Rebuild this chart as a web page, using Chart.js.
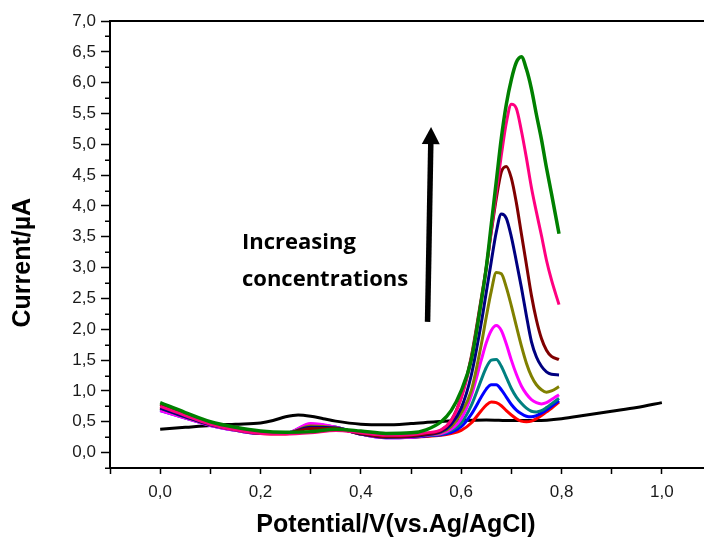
<!DOCTYPE html>
<html><head><meta charset="utf-8">
<script src="https://cdn.jsdelivr.net/npm/chart.js@4.4.0/dist/chart.umd.min.js"></script>
<style>html,body{margin:0;padding:0;background:#fff;overflow:hidden}#wrap{width:704px;height:551px;position:relative}</style>
</head><body><div id="wrap"><canvas id="c" width="704" height="551"></canvas></div>
<script>
// ---------- data ----------
const potential = [0,0.05,0.1,0.15,0.2,0.25,0.3,0.35,0.4,0.45,0.5,0.53,
  0.56,0.58,0.6,0.62,0.64,0.65,0.66,0.67,0.68,0.69,0.7,0.71,0.72,0.73,0.74,0.75,0.76,0.77,0.78,0.795];
const red     = [0.74,0.60,0.46,0.37,0.31,0.30,0.42,0.40,0.30,0.25,0.25,0.26,
  0.28,0.31,0.36,0.48,0.68,0.77,0.82,0.81,0.76,0.68,0.61,0.55,0.51,0.50,0.51,0.55,0.60,0.66,0.72,0.82];
const blue    = [0.68,0.56,0.44,0.36,0.31,0.31,0.46,0.41,0.30,0.24,0.25,0.27,
  0.29,0.33,0.42,0.62,0.90,1.03,1.10,1.10,1.02,0.90,0.78,0.69,0.63,0.59,0.58,0.60,0.64,0.69,0.75,0.84];
const teal    = [0.70,0.57,0.45,0.36,0.31,0.31,0.45,0.41,0.30,0.25,0.26,0.28,
  0.30,0.36,0.48,0.76,1.18,1.38,1.50,1.51,1.40,1.22,1.04,0.90,0.80,0.72,0.67,0.66,0.68,0.73,0.79,0.88];
const magenta = [0.68,0.56,0.44,0.36,0.31,0.31,0.47,0.41,0.30,0.24,0.25,0.28,
  0.31,0.38,0.55,0.92,1.50,1.78,1.98,2.06,1.98,1.76,1.50,1.27,1.08,0.95,0.86,0.81,0.79,0.81,0.86,0.94];
const olive   = [0.72,0.58,0.45,0.37,0.31,0.31,0.43,0.40,0.30,0.25,0.26,0.29,
  0.33,0.42,0.64,1.00,1.75,2.20,2.62,2.92,2.90,2.68,2.38,2.05,1.73,1.45,1.24,1.10,1.02,0.98,1.00,1.07];
const navy    = [0.72,0.58,0.45,0.37,0.31,0.31,0.41,0.40,0.30,0.25,0.26,0.29,
  0.34,0.46,0.72,1.25,2.10,2.60,3.10,3.58,3.87,3.80,3.50,3.10,2.68,2.22,1.80,1.55,1.40,1.31,1.27,1.26];
const maroon  = [0.78,0.62,0.47,0.38,0.32,0.31,0.39,0.39,0.31,0.26,0.27,0.30,
  0.36,0.52,0.90,1.55,2.50,3.00,3.58,4.12,4.55,4.64,4.45,4.05,3.55,3.05,2.55,2.15,1.85,1.66,1.56,1.51];
const pink    = [0.75,0.60,0.46,0.37,0.31,0.30,0.32,0.36,0.32,0.28,0.29,0.32,
  0.37,0.52,0.88,1.52,2.45,3.00,3.60,4.22,4.82,5.35,5.65,5.58,5.22,4.78,4.30,3.90,3.52,3.12,2.80,2.40];
const green   = [0.81,0.65,0.50,0.41,0.35,0.33,0.34,0.38,0.35,0.31,0.32,0.37,
  0.50,0.68,1.00,1.50,2.45,3.00,3.70,4.40,5.10,5.65,6.05,6.33,6.42,6.22,5.90,5.48,5.08,4.62,4.20,3.55];
const blankPotential = [0,0.05,0.1,0.15,0.2,0.225,0.25,0.275,0.3,0.325,0.35,0.4,0.45,0.5,0.55,0.6,0.65,0.7,0.75,0.8,0.85,0.9,0.95,1.0];
const blank          = [0.38,0.41,0.44,0.46,0.48,0.52,0.58,0.61,0.59,0.55,0.51,0.46,0.45,0.47,0.50,0.52,0.53,0.52,0.52,0.55,0.61,0.67,0.73,0.81];

const xTickValues = [-0.1,0,0.1,0.2,0.3,0.4,0.5,0.6,0.7,0.8,0.9,1.0];
const xTickLabels = {"0":"0,0","0.2":"0,2","0.4":"0,4","0.6":"0,6","0.8":"0,8","1":"1,0"};
const yTickValues = [-0.25,0,0.25,0.5,0.75,1,1.25,1.5,1.75,2,2.25,2.5,2.75,3,3.25,3.5,3.75,4,4.25,4.5,4.75,5,5.25,5.5,5.75,6,6.25,6.5,6.75,7];
const yTickLabels = ["0,0","0,5","1,0","1,5","2,0","2,5","3,0","3,5","4,0","4,5","5,0","5,5","6,0","6,5","7,0"];
const xTitle = "Potential/V(vs.Ag/AgCl)";
const yTitle = "Current/\u00b5A";
const noteLines = ["Increasing", "concentrations"];

// ---------- chart ----------
const pts = (xs, ys) => xs.map((v, i) => ({x: v, y: ys[i]}));
const series = [
  ["green", green, "#008000", 3.5],
  ["pink", pink, "#ff0080", 3],
  ["maroon", maroon, "#800000", 3],
  ["navy", navy, "#000080", 3],
  ["olive", olive, "#808000", 3],
  ["magenta", magenta, "#ff00ff", 3],
  ["teal", teal, "#008080", 3],
  ["blue", blue, "#0000ff", 3],
  ["red", red, "#ff0000", 3]
];
const datasets = series.map(s => ({label: s[0], data: pts(potential, s[1]), borderColor: s[2], borderWidth: s[3]}));
datasets.push({label: "blank", data: pts(blankPotential, blank), borderColor: "#000000", borderWidth: 3});

const isMajorY = v => { const k = Math.round(v * 4); return k >= 0 && k % 2 === 0; };

const decor = {
  id: 'decor',
  afterDraw(chart) {
    const {ctx, chartArea: a, scales: {x, y}} = chart;
    ctx.save();
    ctx.strokeStyle = '#000'; ctx.lineWidth = 2;
    ctx.beginPath(); ctx.moveTo(a.left, a.top); ctx.lineTo(a.right, a.top); ctx.stroke();
    // short minor ticks on the y axis
    ctx.lineWidth = 1.5;
    yTickValues.forEach(v => {
      if (isMajorY(v)) return;
      const py = Math.round(y.getPixelForValue(v)) + 0.25;
      ctx.beginPath(); ctx.moveTo(a.left - 5, py); ctx.lineTo(a.left, py); ctx.stroke();
    });
    ctx.fillStyle = '#000';
    ctx.font = 'bold 25px "Liberation Sans", Arial, sans-serif';
    ctx.textAlign = 'center'; ctx.textBaseline = 'middle';
    ctx.fillText(xTitle, x.getPixelForValue(0.47), 525);
    ctx.save();
    ctx.translate(23, y.getPixelForValue(3.08));
    ctx.rotate(-Math.PI / 2);
    ctx.fillText(yTitle, 0, 0);
    ctx.restore();
    // annotation text
    ctx.font = 'bold 22px "Open Sans", Lato, sans-serif';
    ctx.textAlign = 'left';
    ctx.fillText(noteLines[0], x.getPixelForValue(0.163), y.getPixelForValue(3.41));
    ctx.fillText(noteLines[1], x.getPixelForValue(0.163), y.getPixelForValue(2.80));
    // arrow
    const x0 = x.getPixelForValue(0.533), y0 = y.getPixelForValue(2.12);
    const x1 = x.getPixelForValue(0.540), y1 = y.getPixelForValue(5.28);
    const ang = Math.atan2(y1 - y0, x1 - x0);
    const headLen = 17, headW = 9;
    const bx = x1 - headLen * Math.cos(ang), by = y1 - headLen * Math.sin(ang);
    ctx.lineWidth = 5.5; ctx.lineCap = 'butt';
    ctx.beginPath(); ctx.moveTo(x0, y0); ctx.lineTo(bx, by); ctx.stroke();
    ctx.beginPath();
    ctx.moveTo(x1, y1);
    ctx.lineTo(bx + headW * Math.sin(ang), by - headW * Math.cos(ang));
    ctx.lineTo(bx - headW * Math.sin(ang), by + headW * Math.cos(ang));
    ctx.closePath(); ctx.fill();
    ctx.restore();
  }
};

const tickFont = {family: '"Liberation Sans", Arial, sans-serif', size: 17};
new Chart(document.getElementById('c'), {
  type: 'line',
  data: {datasets},
  options: {
    responsive: false,
    animation: false,
    devicePixelRatio: 1,
    layout: {padding: {top: 21, right: 0, left: 0, bottom: 0}},
    plugins: {legend: {display: false}, tooltip: {enabled: false}},
    elements: {point: {radius: 0}, line: {cubicInterpolationMode: 'monotone', fill: false}},
    scales: {
      x: {
        type: 'linear', min: -0.1, max: 1.084,
        afterBuildTicks: s => { s.ticks = xTickValues.map(v => ({value: v})); },
        afterFit: s => { s.height = 83; },
        ticks: {
          autoSkip: false, maxRotation: 0, padding: 8, color: '#1a1a1a', font: tickFont,
          callback: v => xTickLabels[String(Math.round(v * 10) / 10)] || ''
        },
        grid: {drawOnChartArea: false, drawTicks: true, tickLength: 6, tickWidth: 1.5, tickColor: '#000'},
        border: {display: true, color: '#000', width: 2}
      },
      y: {
        type: 'linear', min: -0.25, max: 7,
        afterBuildTicks: s => { s.ticks = yTickValues.map(v => ({value: v})); },
        afterFit: s => { s.width = 110; },
        ticks: {
          autoSkip: false, padding: 5, color: '#1a1a1a', font: tickFont,
          callback: v => {
            const k = Math.round(v * 4);
            return isMajorY(v) ? yTickLabels[k / 2] : '';
          }
        },
        grid: {drawOnChartArea: false, drawTicks: true, tickLength: 9, tickWidth: 1.5,
               tickColor: c => (c.tick && isMajorY(c.tick.value)) ? '#000' : 'rgba(0,0,0,0)'},
        border: {display: true, color: '#000', width: 2}
      }
    }
  },
  plugins: [decor]
});
</script></body></html>
